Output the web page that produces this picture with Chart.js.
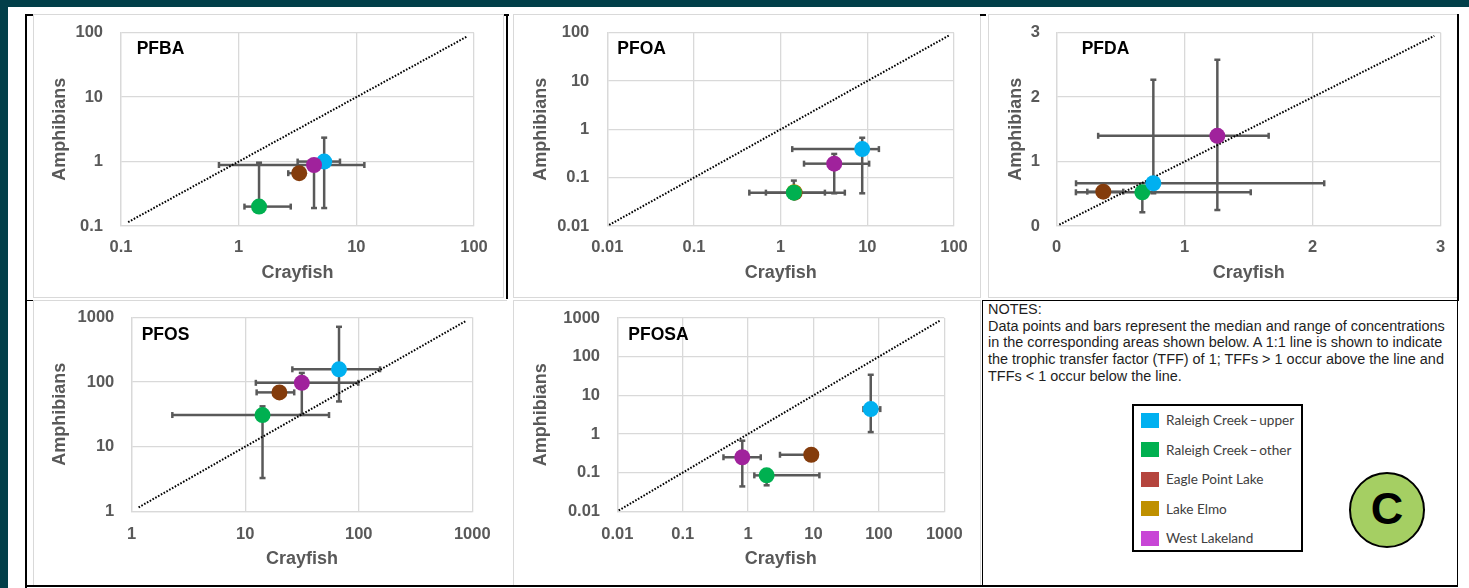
<!DOCTYPE html>
<html><head><meta charset="utf-8">
<script src="https://cdn.jsdelivr.net/npm/chart.js@4/dist/chart.umd.min.js"></script>
<style>
html,body{margin:0;padding:0;}
body{width:1469px;height:588px;background:#023f49;position:relative;overflow:hidden;font-family:"Liberation Sans",Arial,sans-serif;}
#sheet{position:absolute;left:8px;top:7px;width:1461px;height:581px;background:#fff;}
.panel{position:absolute;border:1px solid #d9d9d9;box-sizing:border-box;background:#fff;}
canvas{position:absolute;}
.bl{position:absolute;background:#000;}
#notes{position:absolute;left:981.5px;top:300px;width:476.5px;height:286px;border:1.5px solid #000;box-sizing:border-box;}
.nl{position:absolute;left:988px;font-size:14.45px;line-height:16.7px;height:16.7px;color:#1e1e1e;white-space:nowrap;}
#legend{position:absolute;left:1132px;top:404px;width:171px;height:148px;border:2px solid #000;box-sizing:border-box;background:#fff;}
.sw{position:absolute;left:1141px;width:18px;height:15px;}
.lt{position:absolute;left:1166px;font-family:Lato,"Open Sans",sans-serif;font-size:13.6px;color:#404040;white-space:nowrap;line-height:18px;height:18px;}
#badge{position:absolute;left:1349px;top:472px;width:76px;height:76px;border-radius:50%;border:2.5px solid #000;box-sizing:border-box;background:#a5cf63;text-align:center;font-weight:bold;font-size:45px;line-height:70px;color:#000;}
</style></head>
<body>
<div id="sheet"></div>
<div class="panel" style="left:33px;top:14px;width:471px;height:284px;"></div>
<div class="panel" style="left:513px;top:14px;width:468px;height:284px;"></div>
<div class="panel" style="left:988px;top:14px;width:470px;height:284px;"></div>
<div class="panel" style="left:33px;top:300px;width:474px;height:287px;border-right:none;"></div>
<div class="panel" style="left:513px;top:300px;width:468px;height:287px;"></div>
<canvas id="c0" width="469" height="282" style="left:34px;top:15px;"></canvas>
<canvas id="c1" width="466" height="282" style="left:514px;top:15px;"></canvas>
<canvas id="c2" width="467" height="282" style="left:989px;top:15px;"></canvas>
<canvas id="c3" width="466" height="283" style="left:34px;top:301px;"></canvas>
<canvas id="c4" width="466" height="283" style="left:514px;top:301px;"></canvas>
<div class="bl" style="left:25px;top:14px;width:1.5px;height:574px;"></div>
<div class="bl" style="left:25px;top:14px;width:8px;height:1.5px;"></div>
<div class="bl" style="left:25px;top:299.5px;width:8px;height:1.5px;"></div>
<div class="bl" style="left:506px;top:14px;width:1.5px;height:285px;"></div>
<div class="bl" style="left:504px;top:14px;width:5px;height:1.5px;"></div>
<div class="bl" style="left:980px;top:14px;width:6px;height:1.5px;"></div>
<div class="bl" style="left:1457px;top:14px;width:1.5px;height:287px;"></div>
<div class="bl" style="left:25px;top:585px;width:1433px;height:1.5px;"></div>
<div id="notes"></div>
<div id="noteLines"></div>
<div id="legend"></div>
<div id="legendItems"></div>
<div id="badge">C</div>
<script>
// ---------- data ----------
const sites = ['Raleigh Creek\u2009\u2013\u2009upper', 'Raleigh Creek\u2009\u2013\u2009other', 'Eagle Point Lake', 'Lake Elmo', 'West Lakeland'];
const pointColors = ['#00b0f0', '#00b050', '#843c0c', '#bf9000', '#a0229c'];
const legendColors = ['#00b0f0', '#00b050', '#b5453e', '#bf9000', '#c846d6'];
const drawOrder = [1, 2, 4, 3, 0];
const panelNames = ['PFBA', 'PFOA', 'PFDA', 'PFOS', 'PFOSA'];
const xAxisTitle = 'Crayfish';
const yAxisTitle = 'Amphibians';
const notesLines = [
  'NOTES:',
  'Data points and bars represent the median and range of concentrations',
  'in the corresponding areas shown below. A 1:1 line is shown to indicate',
  'the trophic transfer factor (TFF) of 1; TFFs > 1 occur above the line and',
  'TFFs < 1 occur below the line.'
];

// PFBA
const pfbaTicks = [0.1, 1, 10, 100];
const pfbaX   = [5.33, 1.49, 3.27, null, 4.37];
const pfbaY   = [1.0, 0.2, 0.66, null, 0.885];
const pfbaXLo = [3.17, 1.12, 2.64, null, 0.68];
const pfbaXHi = [7.26, 2.77, null, null, 11.7];
const pfbaYLo = [0.19, null, null, null, 0.19];
const pfbaYHi = [2.35, 0.96, null, null, null];
const pfbaLine = [0.115, 88];

// PFOA
const pfoaTicks = [0.01, 0.1, 1, 10, 100];
const pfoaX   = [8.73, 1.42, 1.45, 1.43, 4.15];
const pfoaY   = [0.39, 0.049, 0.049, 0.05, 0.195];
const pfoaXLo = [1.36, 0.435, 0.676, null, 1.86];
const pfoaXHi = [13.6, 5.5, 3.24, null, 10.5];
const pfoaYLo = [0.0475, null, null, null, 0.0475];
const pfoaYHi = [0.67, 0.087, null, null, 0.31];
const pfoaLine = [0.0105, 88];

// PFDA
const pfdaTicks = [0, 1, 2, 3];
const pfdaX   = [0.755, 0.669, 0.364, null, 1.255];
const pfdaY   = [0.663, 0.523, 0.533, null, 1.40];
const pfdaXLo = [0.151, 0.15, 0.239, null, 0.324];
const pfdaXHi = [2.09, 1.516, 0.52, null, 1.656];
const pfdaYLo = [0.508, 0.213, null, null, 0.248];
const pfdaYHi = [2.27, null, null, null, 2.58];
const pfdaLine = [0.02, 2.95];

// PFOS
const pfosTicks = [1, 10, 100, 1000];
const pfosX   = [67, 14.2, 20, null, 31.5];
const pfosY   = [157, 30.8, 69, null, 97];
const pfosXLo = [26, 2.28, 12.6, null, 12.4];
const pfosXHi = [154, 54.7, 27, null, 99];
const pfosYLo = [50, 3.27, null, null, 31];
const pfosYHi = [713, 42, null, null, 138];
const pfosLine = [1.15, 880];

// PFOSA
const pfosaTicks = [0.01, 0.1, 1, 10, 100, 1000];
const pfosaX   = [75, 1.92, 9.25, null, 0.815];
const pfosaY   = [4.4, 0.085, 0.29, null, 0.25];
const pfosaXLo = [58, 1.245, 3.07, null, 0.42];
const pfosaXHi = [105, 12.3, null, null, 1.56];
const pfosaYLo = [1.12, 0.047, null, null, 0.044];
const pfosaYHi = [34, null, null, null, 0.67];
const pfosaLine = [0.0105, 880];

// ---------- layout (pixel geometry of each panel) ----------
const panels = [
  {name: panelNames[0], type: 'logarithmic', ticks: pfbaTicks, x: pfbaX, y: pfbaY, xLo: pfbaXLo, xHi: pfbaXHi, yLo: pfbaYLo, yHi: pfbaYHi, line: pfbaLine,
   canvas: [34, 15, 469, 282], plot: [121, 32.7, 474, 226], yTickRight: 103, xTickY: 247.3, xTitleY: 273, yTitleX: 60, lab: [15.7, 16.6]},
  {name: panelNames[1], type: 'logarithmic', ticks: pfoaTicks, x: pfoaX, y: pfoaY, xLo: pfoaXLo, xHi: pfoaXHi, yLo: pfoaYLo, yHi: pfoaYHi, line: pfoaLine,
   canvas: [514, 15, 466, 282], plot: [607.3, 32.7, 954, 226], yTickRight: 589.3, xTickY: 247.3, xTitleY: 273.3, yTitleX: 540.7, lab: [10, 16.6]},
  {name: panelNames[2], type: 'linear', ticks: pfdaTicks, x: pfdaX, y: pfdaY, xLo: pfdaXLo, xHi: pfdaXHi, yLo: pfdaYLo, yHi: pfdaYHi, line: pfdaLine,
   canvas: [989, 15, 467, 282], plot: [1056.7, 32.7, 1440.7, 226], yTickRight: 1040, xTickY: 247.3, xTitleY: 273.3, yTitleX: 1016, lab: [25, 16.6]},
  {name: panelNames[3], type: 'logarithmic', ticks: pfosTicks, x: pfosX, y: pfosY, xLo: pfosXLo, xHi: pfosXHi, yLo: pfosYLo, yHi: pfosYHi, line: pfosLine,
   canvas: [34, 301, 466, 283], plot: [131.7, 317.3, 472.3, 511.3], yTickRight: 114.3, xTickY: 534, xTitleY: 558.7, yTitleX: 60, lab: [10, 17.4]},
  {name: panelNames[4], type: 'logarithmic', ticks: pfosaTicks, x: pfosaX, y: pfosaY, xLo: pfosaXLo, xHi: pfosaXHi, yLo: pfosaYLo, yHi: pfosaYHi, line: pfosaLine,
   canvas: [514, 301, 466, 283], plot: [617.3, 318, 944.3, 511.3], yTickRight: 600, xTickY: 534, xTitleY: 558.7, yTitleX: 540.7, lab: [11, 16.7]}
];

const FONT = '"Liberation Sans", Arial, sans-serif';
const TICK_SIZE = 16.5, TITLE_SIZE = 18;
const AXIS_GRAY = '#595959', GRID = '#d9d9d9';
const panelOf = chart => panels[+chart.canvas.id.slice(1)];

const errorBars = {
  id: 'errorBars',
  beforeDatasetsDraw(chart) {
    const p = panelOf(chart), ctx = chart.ctx;
    const xs = chart.scales.x, ys = chart.scales.y;
    const cap = 3;
    ctx.save();
    ctx.strokeStyle = '#595959';
    ctx.lineWidth = 2.5;
    const seg = (a, b, c, d) => { ctx.beginPath(); ctx.moveTo(a, b); ctx.lineTo(c, d); ctx.stroke(); };
    for (let i = 0; i < sites.length; i++) {
      if (p.x[i] == null) continue;
      const px = xs.getPixelForValue(p.x[i]), py = ys.getPixelForValue(p.y[i]);
      [p.xLo[i], p.xHi[i]].forEach(v => {
        if (v == null) return;
        const e = xs.getPixelForValue(v);
        seg(px, py, e, py); seg(e, py - cap, e, py + cap);
      });
      [p.yLo[i], p.yHi[i]].forEach(v => {
        if (v == null) return;
        const e = ys.getPixelForValue(v);
        seg(px, py, px, e); seg(px - cap, e, px + cap, e);
      });
    }
    ctx.restore();
  }
};

const panelLabel = {
  id: 'panelLabel',
  afterDatasetsDraw(chart) {
    const p = panelOf(chart), ctx = chart.ctx, a = chart.chartArea;
    ctx.save();
    ctx.font = 'bold 17.5px ' + FONT;
    ctx.fillStyle = '#000';
    ctx.textBaseline = 'middle';
    ctx.textAlign = 'left';
    ctx.fillText(p.name, a.left + p.lab[0], a.top + p.lab[1]);
    ctx.restore();
  }
};

panels.forEach((p, k) => {
  const [cl, ct, cw, ch] = p.canvas;
  const [pl, pt, pr, pb] = p.plot;
  const tickLH = TICK_SIZE * 1.2, titleLH = TITLE_SIZE * 1.2;
  const yW = pl - cl, xH = (ct + ch) - pb;
  const datasets = [];
  sites.forEach((s, i) => {
    if (p.x[i] == null) return;
    datasets.push({
      type: 'scatter', label: s, data: [{x: p.x[i], y: p.y[i]}],
      backgroundColor: pointColors[i], borderWidth: 0, pointRadius: 8, pointHoverRadius: 8,
      order: drawOrder[i]
    });
  });
  datasets.push({
    type: 'line', label: '1:1', data: p.line.map(v => ({x: v, y: v})),
    borderColor: '#000', borderWidth: 2, borderDash: [1.6, 1.6], pointRadius: 0, fill: false, order: 10
  });
  const setTicks = s => { s.ticks = p.ticks.map(v => ({value: v})); };
  const zeroPad = s => { s.paddingTop = 0; s.paddingBottom = 0; s.paddingLeft = 0; s.paddingRight = 0; };
  const common = {
    type: p.type, min: p.ticks[0], max: p.ticks[p.ticks.length - 1],
    afterBuildTicks: setTicks,
    grid: {color: GRID, lineWidth: 1.3, drawTicks: false},
    border: {color: GRID, width: 1.3},
  };
  new Chart(document.getElementById('c' + k), {
    data: {datasets},
    plugins: [errorBars, panelLabel],
    options: {
      responsive: false, animation: false, devicePixelRatio: 1,
      layout: {padding: {left: 0, top: pt - ct, right: (cl + cw) - pr, bottom: 0}},
      plugins: {legend: {display: false}, tooltip: {enabled: false}},
      scales: {
        x: Object.assign({}, common, {
          position: 'bottom',
          afterFit: s => { s.height = xH; zeroPad(s); },
          ticks: {padding: p.xTickY - pb - tickLH / 2, color: AXIS_GRAY, font: {family: FONT, size: TICK_SIZE, weight: 'bold'},
                  maxRotation: 0, autoSkip: false, callback: v => String(v)},
          title: {display: true, text: xAxisTitle, color: AXIS_GRAY, font: {family: FONT, size: TITLE_SIZE, weight: 'bold'},
                  padding: {top: 0, bottom: (ct + ch) - p.xTitleY - titleLH / 2}}
        }),
        y: Object.assign({}, common, {
          position: 'left',
          afterFit: s => { s.width = yW; zeroPad(s); },
          ticks: {padding: pl - p.yTickRight, color: AXIS_GRAY, font: {family: FONT, size: TICK_SIZE, weight: 'bold'},
                  autoSkip: false, callback: v => String(v)},
          title: {display: true, text: yAxisTitle, color: AXIS_GRAY, font: {family: FONT, size: TITLE_SIZE, weight: 'bold'},
                  padding: {top: (p.yTitleX - cl) - titleLH / 2, bottom: 0}}
        })
      }
    }
  });
});

// notes text
const nl = document.getElementById('noteLines');
notesLines.forEach((t, i) => {
  const d = document.createElement('div');
  d.className = 'nl';
  d.style.top = (300.9 + i * 16.7) + 'px';
  d.textContent = t;
  nl.appendChild(d);
});
// legend
const li = document.getElementById('legendItems');
const rowY = [420, 449.7, 479, 508.7, 538];
sites.forEach((s, i) => {
  const sw = document.createElement('div');
  sw.className = 'sw';
  sw.style.top = (rowY[i] - 7.5) + 'px';
  sw.style.background = legendColors[i];
  li.appendChild(sw);
  const t = document.createElement('div');
  t.className = 'lt';
  t.style.top = (rowY[i] - 9) + 'px';
  t.textContent = s;
  li.appendChild(t);
});
</script>
</body></html>
